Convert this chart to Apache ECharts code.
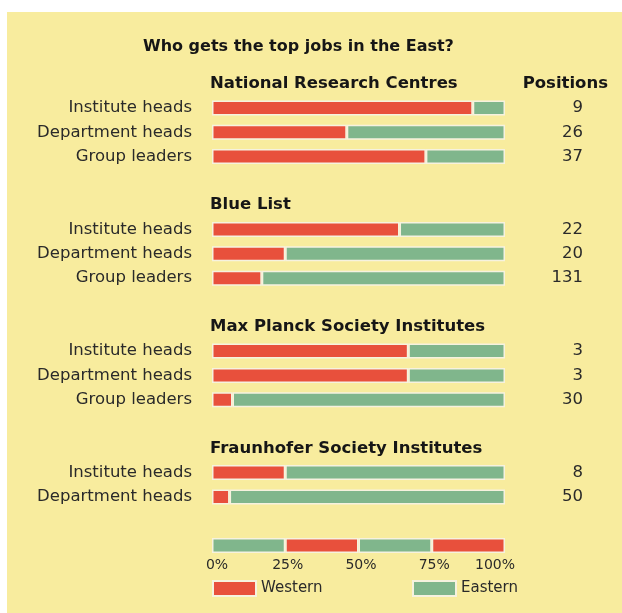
<!DOCTYPE html>
<html>
<head>
<meta charset="utf-8">
<script src="https://cdn.jsdelivr.net/npm/echarts@6/dist/echarts.min.js"></script>
<style>html,body{margin:0;padding:0;background:#fff;}#c{width:622px;height:613px;}</style>
</head>
<body>
<div id="c"></div>
<script>
// ---- data ----
var titleText = 'Who gets the top jobs in the East?';
var groups = ['National Research Centres', 'Blue List', 'Max Planck Society Institutes', 'Fraunhofer Society Institutes'];
var groupSizes = [3, 3, 3, 2];
var rowLabels = ['Institute heads', 'Department heads', 'Group leaders',
                 'Institute heads', 'Department heads', 'Group leaders',
                 'Institute heads', 'Department heads', 'Group leaders',
                 'Institute heads', 'Department heads'];
var westernPct = [89, 46, 73, 64, 25, 17, 67, 67, 7, 25, 6];
var positions = [9, 26, 37, 22, 20, 131, 3, 3, 30, 8, 50];
var positionsHeader = 'Positions';
var scaleSegments = [25, 25, 25, 25];
var tickLabels = ['0%', '25%', '50%', '75%', '100%'];
var seriesNames = ['Western', 'Eastern'];

// ---- build slots ----
var RED = '#e8503c', GREEN = '#80b68c', BG = '#f8ec9e', EDGE = '#f6f2df';
var leftLabels = [], headLabels = [], posLabels = [], posHead = [], west = [], east = [];
var r = 0;
groups.forEach(function (g, gi) {
  leftLabels.push(''); headLabels.push(g); posLabels.push(''); posHead.push(gi === 0 ? positionsHeader : '');
  west.push('-'); east.push('-');
  for (var k = 0; k < groupSizes[gi]; k++) {
    leftLabels.push(rowLabels[r]); headLabels.push(''); posLabels.push(String(positions[r])); posHead.push('');
    west.push(westernPct[r]); east.push(100 - westernPct[r]);
    r++;
  }
  leftLabels.push(''); headLabels.push(''); posLabels.push(''); posHead.push('');
  west.push('-'); east.push('-');
});
// scale slot
leftLabels.push(''); headLabels.push(''); posLabels.push(''); posHead.push('');
west.push('-'); east.push('-');
var nSlots = leftLabels.length;
var BAR_W = 15;
var scaleSeries = scaleSegments.map(function (v, i) {
  var d = [];
  for (var s = 0; s < nSlots; s++) d.push(s === nSlots - 1 ? v : '-');
  return {
    name: 'scale' + i, type: 'bar', stack: 'all', yAxisIndex: 0, barWidth: BAR_W, data: d,
    itemStyle: { color: i % 2 === 0 ? GREEN : RED, borderColor: EDGE, borderWidth: 1.5 },
    silent: true
  };
});

var FONT = 'DejaVu Sans';
var hidden = { show: false };
function yAx(data, label) {
  return {
    type: 'category', inverse: true, data: data, position: label.position,
    axisLine: hidden, axisTick: hidden, splitLine: hidden,
    axisLabel: Object.assign({ interval: 0, color: '#2a2a2a', fontFamily: FONT, fontSize: 16.5 }, label)
  };
}
var headStyle = { fontFamily: FONT, fontWeight: 'bold', fontSize: 16.5, color: '#161616', padding: [0, 0, 4, 0] };

var chart = echarts.init(document.getElementById('c'));
chart.setOption({
  backgroundColor: '#ffffff',
  animation: false,
  graphic: [{
    type: 'rect', z: -10, silent: true,
    shape: { x: 7, y: 12, width: 622, height: 601 },
    style: { fill: BG }
  }],
  title: {
    text: titleText, left: 138, top: 34,
    textStyle: { fontFamily: FONT, fontWeight: 'bold', fontSize: 16, color: '#161616' }
  },
  grid: { left: 212, right: 117, top: 71.5, bottom: 55.3, containLabel: false },
  xAxis: {
    type: 'value', min: 0, max: 100, interval: 25,
    axisLine: hidden, axisTick: hidden, splitLine: hidden,
    axisLabel: {
      margin: 1, color: '#2a2a2a', fontFamily: FONT, fontSize: 14,
      formatter: function (v) {
        var i = Math.round(v / 25);
        if (i === 0) return '{l|' + tickLabels[i] + '}';
        if (i === tickLabels.length - 1) return '{r|' + tickLabels[i] + '}';
        return '{m|' + tickLabels[i] + '}';
      },
      rich: {
        l: { fontFamily: FONT, fontSize: 14, color: '#2a2a2a', padding: [0, 0, 0, 10] },
        m: { fontFamily: FONT, fontSize: 14, color: '#2a2a2a', padding: [0, 0, 0, 5] },
        r: { fontFamily: FONT, fontSize: 14, color: '#2a2a2a', padding: [0, 20, 0, 0] }
      }
    }
  },
  yAxis: [
    yAx(leftLabels, { position: 'left', margin: 20 }),
    yAx(headLabels, Object.assign({ position: 'left', margin: 2, align: 'left' }, headStyle)),
    yAx(posLabels, { position: 'right', margin: 78, align: 'right' }),
    yAx(posHead, Object.assign({ position: 'right', margin: 103, align: 'right' }, headStyle))
  ],
  legend: [
    { data: [seriesNames[0]], left: 212, top: 580, padding: 0, icon: 'rect', itemWidth: 43, itemHeight: 15, itemGap: 8,
      textStyle: { fontFamily: FONT, fontSize: 15, color: '#2a2a2a' } },
    { data: [seriesNames[1]], left: 412, top: 580, padding: 0, icon: 'rect', itemWidth: 43, itemHeight: 15, itemGap: 8,
      textStyle: { fontFamily: FONT, fontSize: 15, color: '#2a2a2a' } }
  ],
  series: [
    { name: seriesNames[0], type: 'bar', stack: 'all', yAxisIndex: 0, barWidth: BAR_W, data: west,
      itemStyle: { color: RED, borderColor: EDGE, borderWidth: 1.5 } },
    { name: seriesNames[1], type: 'bar', stack: 'all', yAxisIndex: 0, barWidth: BAR_W, data: east,
      itemStyle: { color: GREEN, borderColor: EDGE, borderWidth: 1.5 } }
  ].concat(scaleSeries)
});
</script>
</body>
</html>
